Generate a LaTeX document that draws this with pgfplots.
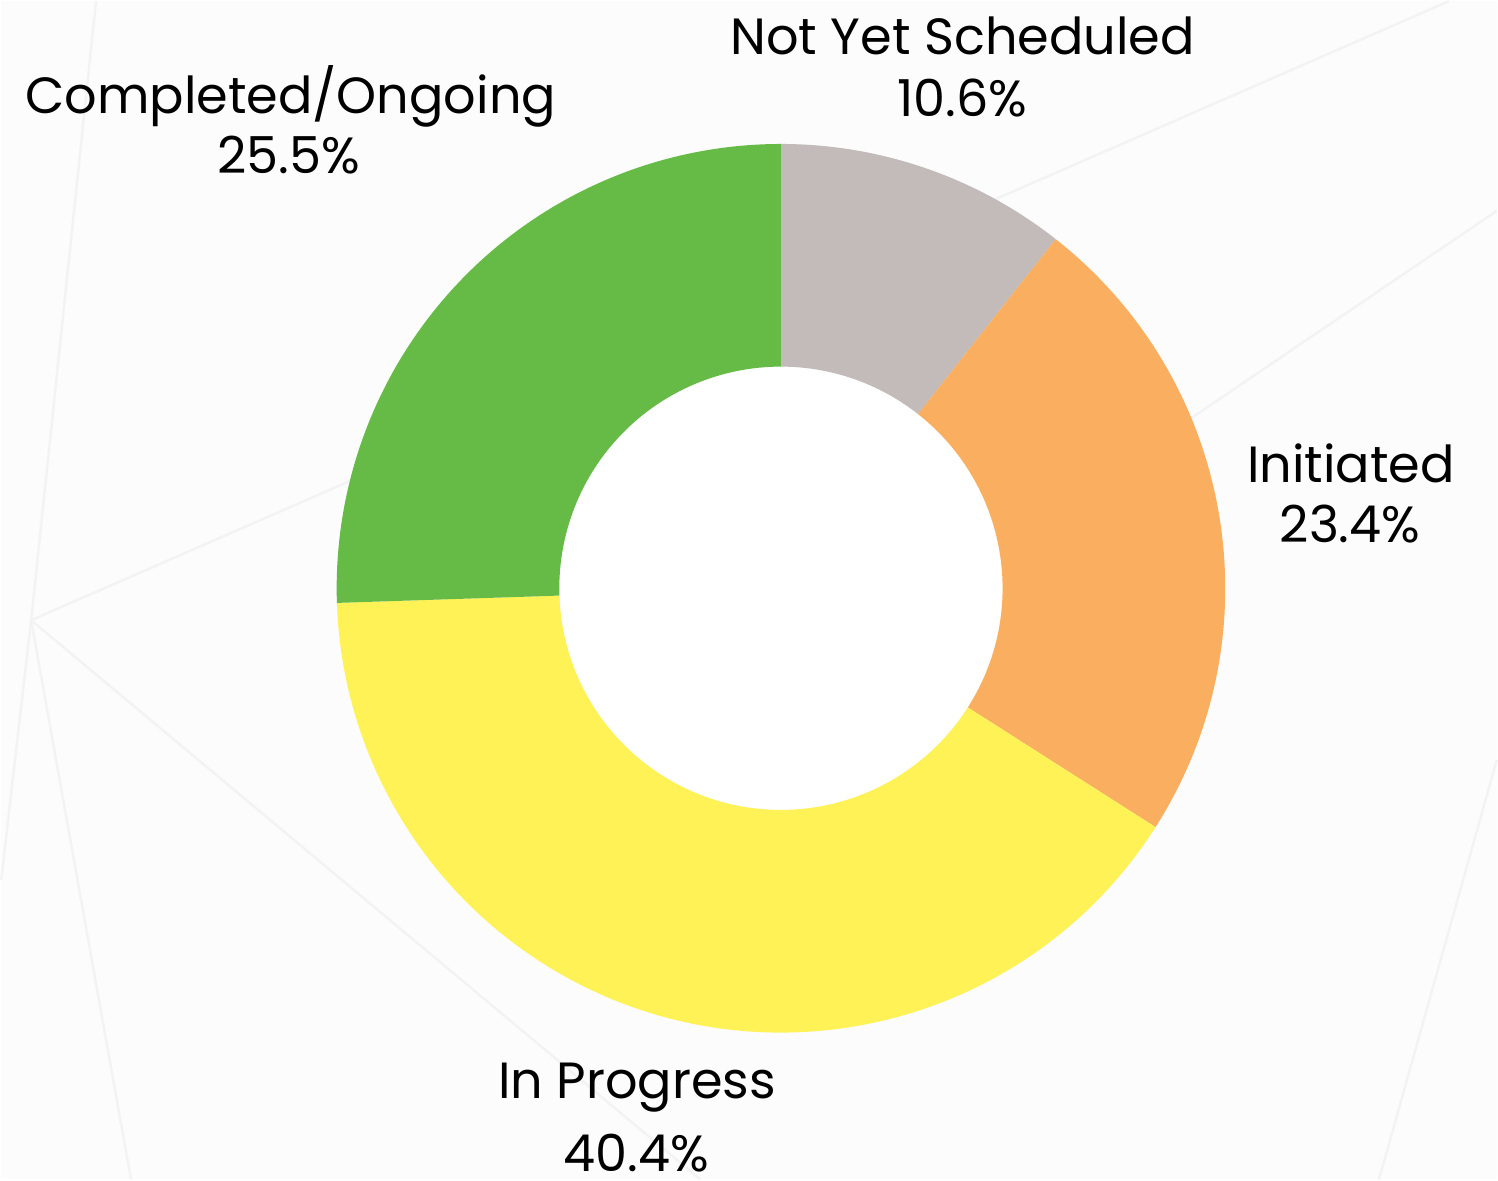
\documentclass[border=0pt]{standalone}
\usepackage{pgfplots}
\pgfplotsset{compat=1.18}
\usepackage{fontspec}
\setmainfont{Poppins}
\definecolor{bgc}{HTML}{FCFCFC}
\definecolor{bgl}{HTML}{F3F3F3}
\definecolor{cgray}{HTML}{C2BBBA}
\definecolor{corange}{HTML}{F9AF5F}
\definecolor{cyellow}{HTML}{FFF256}
\definecolor{cgreen}{HTML}{66BB47}
\begin{document}
\begin{tikzpicture}
\begin{axis}[
  x=0.25pt, y=0.25pt,
  xmin=0, xmax=1498, ymin=0, ymax=1180,
  scale only axis, hide axis, clip=false,
]
\fill[bgc] (axis cs:0,0) rectangle (axis cs:1498,1180);
% faint background texture lines
\draw[bgl, line width=0.6pt] (axis cs:30,560) -- (axis cs:1450,1180);
\draw[bgl, line width=0.6pt] (axis cs:30,560) -- (axis cs:95,1180);
\draw[bgl, line width=0.6pt] (axis cs:30,560) -- (axis cs:700,0);
\draw[bgl, line width=0.6pt] (axis cs:30,560) -- (axis cs:0,300);
\draw[bgl, line width=0.6pt] (axis cs:30,560) -- (axis cs:130,0);
\draw[bgl, line width=0.6pt] (axis cs:1498,970) -- (axis cs:1100,700);
\draw[bgl, line width=0.6pt] (axis cs:1498,420) -- (axis cs:1380,0);
\fill[white] (axis cs:781,592) circle[radius=55.5pt];
\pgfmathsetmacro{\acc}{90}
\foreach \v/\c in {10.6/cgray,23.4/corange,40.4/cyellow,25.5/cgreen}{
  \pgfmathsetmacro{\s}{\acc}
  \pgfmathsetmacro{\e}{\acc-3.6*\v*100/99.9}
  \edef\temp{\noexpand\fill[\c] ([shift={(\s:111.25pt)}]axis cs:781,592) arc[start angle=\s,end angle=\e,radius=111.25pt] -- ([shift={(\e:55.5pt)}]axis cs:781,592) arc[start angle=\e,end angle=\s,radius=55.5pt] -- cycle;}
  \temp
  \global\let\acc\e
}
\tikzset{lab/.style={anchor=base, font=\fontsize{12.75}{15}\selectfont, text=black, inner sep=0pt}}
\node[lab] at (axis cs:963,1127) {Not Yet Scheduled};
\node[lab] at (axis cs:963,1065) {10.6\%};
\node[lab] at (axis cs:290,1068) {Completed/Ongoing};
\node[lab] at (axis cs:288,1007) {25.5\%};
\node[lab] at (axis cs:1352,698) {Initiated};
\node[lab] at (axis cs:1351,638) {23.4\%};
\node[lab] at (axis cs:637,81) {In Progress};
\node[lab] at (axis cs:636,8) {40.4\%};
\end{axis}
\end{tikzpicture}
\end{document}
